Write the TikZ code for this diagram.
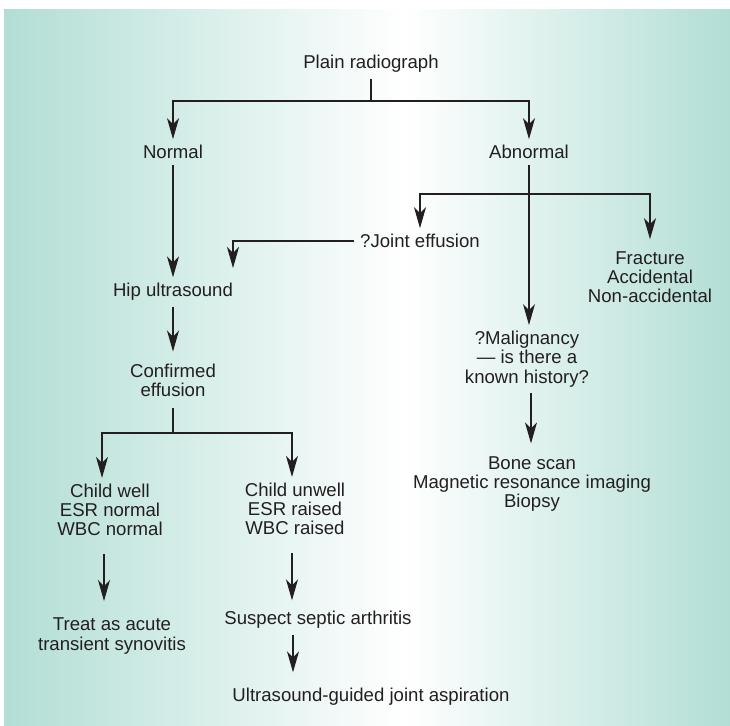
\documentclass[tikz,border=0pt]{standalone}
\usepackage{fontspec}
\setmainfont{Liberation Sans}
\usetikzlibrary{arrows.meta}
\definecolor{bgteal}{RGB}{178,222,213}
\definecolor{ink}{RGB}{35,31,32}
\tikzset{
  lbl/.style={font=\fontsize{9.3pt}{9.65pt}\selectfont, text=ink, align=center, inner sep=3pt, outer sep=0pt},
  ln/.style={draw=ink, line width=0.6pt},
  arr/.style={ln, -{Stealth[length=10.5pt,width=6pt,inset=3pt]}}
}

\begin{document}
\begin{tikzpicture}[x=0.5pt, y=-0.5pt]
  \useasboundingbox (0,0) rectangle (730,725);
  % background
  \shade[left color=bgteal, right color=white] (4,9) rectangle (405,725);
  \shade[left color=white, right color=bgteal] (405,9) rectangle (730,725);

  \node[lbl] (plain) at (371,64) {Plain radiograph};
  \node[lbl] (normal) at (173,152) {Normal};
  \node[lbl] (abnormal) at (529,152) {Abnormal};
  \node[lbl] (joint) at (420,241) {?Joint effusion};
  \node[lbl] (fracture) at (650,277) {Fracture\\Accidental\\Non-accidental};
  \node[lbl] (hip) at (173,292) {Hip ultrasound};
  \node[lbl] (confirmed) at (173,380) {Confirmed\\effusion};
  \node[lbl] (malig) at (527,359) {?Malignancy\\— is there a\\known history?};
  \node[lbl] (bone) at (532,484) {Bone scan\\Magnetic resonance imaging\\Biopsy};
  \node[lbl] (well) at (110,510) {Child well\\ESR normal\\WBC normal};
  \node[lbl] (unwell) at (295,509) {Child unwell\\ESR raised\\WBC raised};
  \node[lbl] (treat) at (112,636) {Treat as acute\\transient synovitis};
  \node[lbl] (septic) at (318,620) {Suspect septic arthritis};
  \node[lbl] (aspir) at (371,697) {Ultrasound-guided joint aspiration};

  % branch points
  \coordinate (s1) at (371,101);
  \coordinate (s2) at (529,194);
  \coordinate (s3) at (173,433);
  \coordinate (jhip) at (233,268);
  \coordinate (w1) at ([xshift=-3pt]well.south);
  \coordinate (u1) at ([xshift=-1.5pt]unwell.south);
  \coordinate (p1) at ([xshift=-12.5pt]septic.south);
  \coordinate (m1) at ([xshift=2pt]malig.south);

  \draw[ln] (plain) -- (s1);
  \draw[arr] (s1) -| (normal);
  \draw[arr] (s1) -| (abnormal);
  \draw[arr] (normal) -- (hip);
  \draw[arr] (s2) -| (joint);
  \draw[arr, shorten >=3pt] (s2) -| (fracture);
  \draw[arr] (abnormal) -- (abnormal |- malig.north);
  \draw[arr] (joint) -| (jhip);
  \draw[arr, shorten >=3pt] (hip) -- (confirmed);
  \draw[ln, shorten <=3pt] (confirmed) -- (s3);
  \draw[arr] (s3) -| ([xshift=-4pt]well.north);
  \draw[arr] (s3) -| ([xshift=-1.5pt]unwell.north);
  \draw[arr, shorten <=6pt, shorten >=5.5pt] (w1) -- (w1 |- treat.north);
  \draw[arr, shorten <=6pt, shorten >=2.5pt] (u1) -- (u1 |- septic.north);
  \draw[arr, shorten >=5pt] (p1) -- (p1 |- aspir.north);
  \draw[arr, shorten >=3.5pt] (m1) -- (m1 |- bone.north);
\end{tikzpicture}
\end{document}
